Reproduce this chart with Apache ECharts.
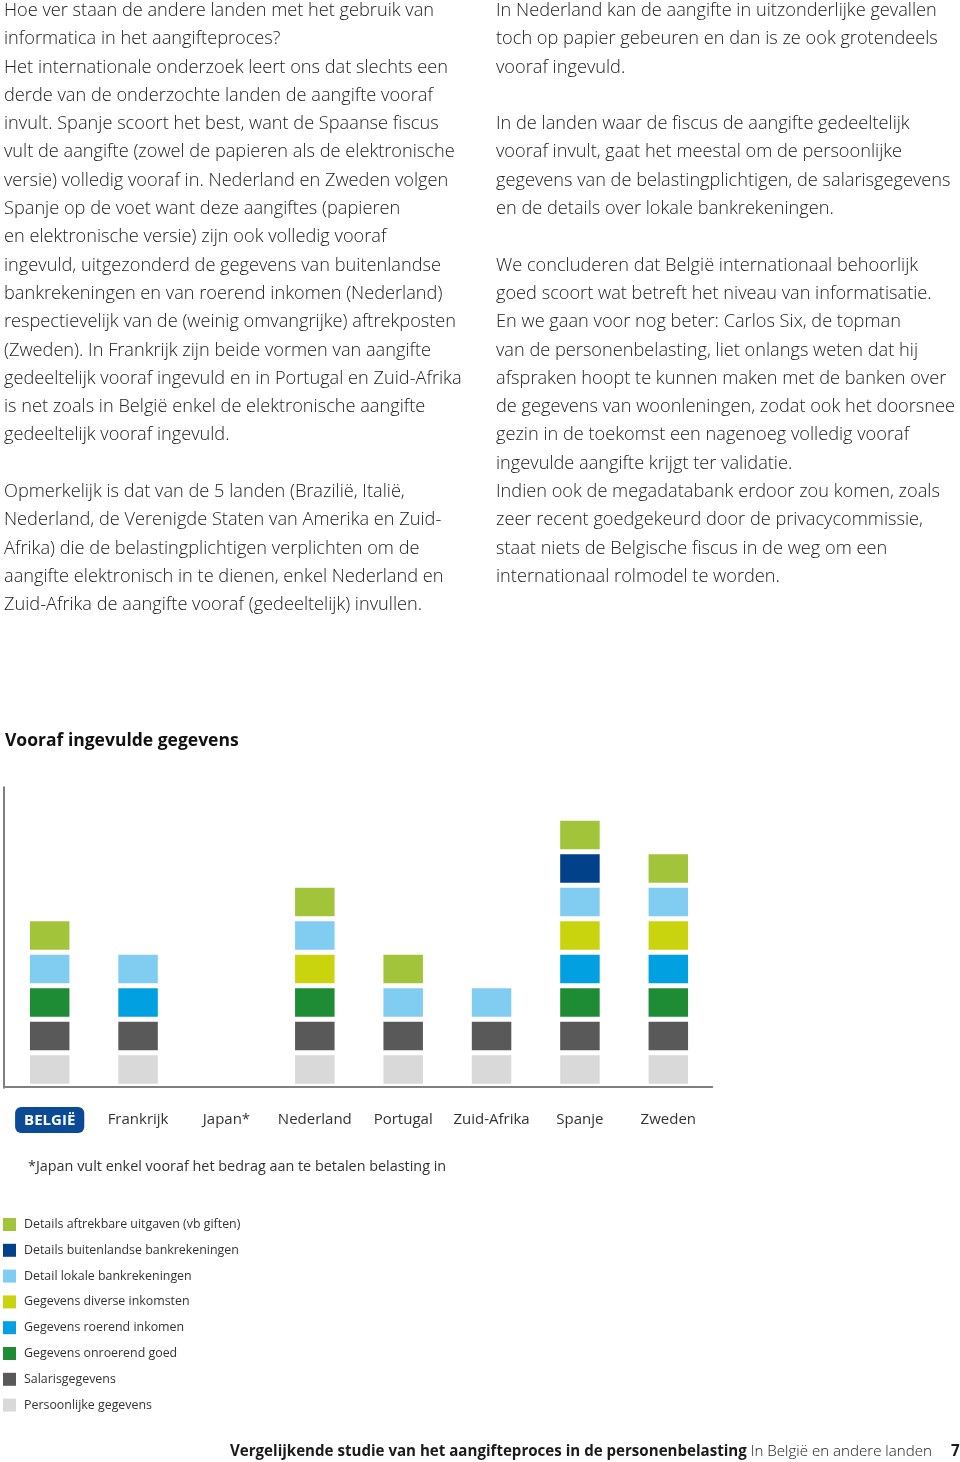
<!DOCTYPE html>
<html>
<head>
<meta charset="utf-8">
<script src="https://cdn.jsdelivr.net/npm/echarts@6/dist/echarts.min.js"></script>
<style>
  html, body { margin:0; padding:0; background:#fff; }
  body { width:960px; height:1462px; position:relative; overflow:hidden; }
  #chart { position:absolute; left:0; top:0; width:960px; height:1462px; }
  .col { position:absolute; top:-5px; font-family:"Open Sans", "Noto Sans", sans-serif; font-weight:300;
         font-size:18.2px; line-height:28.3px; color:#222; white-space:nowrap; letter-spacing:0; z-index:2; }
  #left { left:4px; }
  #right { left:496px; }
  #footer { position:absolute; left:230px; top:1440px; font-family:"Open Sans", "Noto Sans", sans-serif;
            font-size:15.1px; color:#1a1a1a; white-space:nowrap; letter-spacing:0; z-index:2; }
  #footer b { font-weight:700; }
  #footer span { font-weight:300; }
  #pagenr { position:absolute; left:951px; top:1440px; font-family:"Open Sans", sans-serif; font-weight:700; font-size:15.2px; color:#1a1a1a; }
</style>
</head>
<body>
<div id="chart"></div>
<div class="col" id="left">Hoe ver staan de andere landen met het gebruik van<br>informatica in het aangifteproces?<br>Het internationale onderzoek leert ons dat slechts een<br>derde van de onderzochte landen de aangifte vooraf<br>invult. Spanje scoort het best, want de Spaanse fiscus<br>vult de aangifte (zowel de papieren als de elektronische<br>versie) volledig vooraf in. Nederland en Zweden volgen<br>Spanje op de voet want deze aangiftes (papieren<br>en elektronische versie) zijn ook volledig vooraf<br>ingevuld, uitgezonderd de gegevens van buitenlandse<br>bankrekeningen en van roerend inkomen (Nederland)<br>respectievelijk van de (weinig omvangrijke) aftrekposten<br>(Zweden). In Frankrijk zijn beide vormen van aangifte<br>gedeeltelijk vooraf ingevuld en in Portugal en Zuid-Afrika<br>is net zoals in België enkel de elektronische aangifte<br>gedeeltelijk vooraf ingevuld.<br><br>Opmerkelijk is dat van de 5 landen (Brazilië, Italië,<br>Nederland, de Verenigde Staten van Amerika en Zuid-<br>Afrika) die de belastingplichtigen verplichten om de<br>aangifte elektronisch in te dienen, enkel Nederland en<br>Zuid-Afrika de aangifte vooraf (gedeeltelijk) invullen.</div>
<div class="col" id="right">In Nederland kan de aangifte in uitzonderlijke gevallen<br>toch op papier gebeuren en dan is ze ook grotendeels<br>vooraf ingevuld.<br><br>In de landen waar de fiscus de aangifte gedeeltelijk<br>vooraf invult, gaat het meestal om de persoonlijke<br>gegevens van de belastingplichtigen, de salarisgegevens<br>en de details over lokale bankrekeningen.<br><br>We concluderen dat België internationaal behoorlijk<br>goed scoort wat betreft het niveau van informatisatie.<br>En we gaan voor nog beter: Carlos Six, de topman<br>van de personenbelasting, liet onlangs weten dat hij<br>afspraken hoopt te kunnen maken met de banken over<br>de gegevens van woonleningen, zodat ook het doorsnee<br>gezin in de toekomst een nagenoeg volledig vooraf<br>ingevulde aangifte krijgt ter validatie.<br>Indien ook de megadatabank erdoor zou komen, zoals<br>zeer recent goedgekeurd door de privacycommissie,<br>staat niets de Belgische fiscus in de weg om een<br>internationaal rolmodel te worden.</div>
<div id="footer"><b>Vergelijkende studie van het aangifteproces in de personenbelasting</b> <span>In België en andere landen</span></div>
<div id="pagenr">7</div>
<script>
// ---- data ----
const countries = ['BELGIË', 'Frankrijk', 'Japan*', 'Nederland', 'Portugal', 'Zuid-Afrika', 'Spanje', 'Zweden'];
// stacking order bottom -> top; 1 = pre-filled, 0 = not
const persoonlijke  = [1, 1, 0, 1, 1, 1, 1, 1];
const salaris       = [1, 1, 0, 1, 1, 1, 1, 1];
const onroerend     = [1, 0, 0, 1, 0, 0, 1, 1];
const roerend       = [0, 1, 0, 0, 0, 0, 1, 1];
const diverse       = [0, 0, 0, 1, 0, 0, 1, 1];
const lokaleBank    = [1, 1, 0, 1, 1, 1, 1, 1];
const buitenlBank   = [0, 0, 0, 0, 0, 0, 1, 0];
const aftrekbare    = [1, 0, 0, 1, 1, 0, 1, 1];
const seriesNames = [
  'Persoonlijke gegevens', 'Salarisgegevens', 'Gegevens onroerend goed', 'Gegevens roerend inkomen',
  'Gegevens diverse inkomsten', 'Detail lokale bankrekeningen', 'Details buitenlandse bankrekeningen',
  'Details aftrekbare uitgaven (vb giften)'
];
const seriesValues = [persoonlijke, salaris, onroerend, roerend, diverse, lokaleBank, buitenlBank, aftrekbare];
const seriesColors = ['#d9d9d9', '#595959', '#1e8b35', '#00a0e1', '#c9d40f', '#80cdf1', '#004189', '#a2c43a'];
const titleText = 'Vooraf ingevulde gegevens';
const footnote = '*Japan vult enkel vooraf het bedrag aan te betalen belasting in';

const FONT = '"Open Sans", "Noto Sans", sans-serif';
const chart = echarts.init(document.getElementById('chart'), null, { renderer: 'canvas' });

const series = seriesNames.map((name, i) => ({
  name: name,
  type: 'bar',
  stack: 'total',
  barWidth: 44.5,
  data: seriesValues[i].map(v => (v ? v : '-')),
  itemStyle: { color: seriesColors[i], borderColor: '#ffffff', borderWidth: 2.5 },
  emphasis: { disabled: true },
  animation: false
}));

chart.setOption({
  animation: false,
  textStyle: { fontFamily: FONT },
  title: {
    text: titleText, left: 5, top: 732, padding: 0,
    textStyle: { fontFamily: FONT, fontSize: 17.5, fontWeight: 'bold', color: '#111' }
  },
  grid: { left: 5.5, top: 787, width: 707, height: 301, containLabel: false },
  xAxis: {
    type: 'category',
    data: countries,
    z: 5,
    axisLine: { lineStyle: { color: '#555', width: 1.5 } },
    axisTick: { show: false },
    axisLabel: {
      interval: 0,
      margin: 32, verticalAlign: 'middle', fontSize: 15, color: '#333', fontFamily: FONT,
      formatter: (v, idx) => (idx === 0 ? '{b|' + v + '}' : v),
      rich: {
        b: { backgroundColor: '#0b4b96', color: '#fff', fontWeight: 'bold', fontSize: 15,
             padding: [6, 9, 5, 9], borderRadius: 6, fontFamily: FONT }
      }
    }
  },
  yAxis: {
    type: 'value', min: -0.05, max: 8.93, offset: 1.5, z: 5,
    axisLine: { show: true, onZero: false, lineStyle: { color: '#555', width: 1.5 } },
    axisTick: { show: false },
    axisLabel: { show: false },
    splitLine: { show: false }
  },
  legend: {
    orient: 'vertical', left: 3, top: 1218, padding: 0,
    icon: 'rect', itemWidth: 13, itemHeight: 13, itemGap: 12.8,
    itemStyle: { borderWidth: 0 },
    data: seriesNames.slice().reverse(),
    selectedMode: false,
    textStyle: { fontSize: 12.4, color: '#333', fontFamily: FONT, padding: [0, 0, 0, 3] }
  },
  graphic: [{
    type: 'text', left: 28, top: 1160,
    style: { text: footnote, fontSize: 14.4, fill: '#333', fontFamily: FONT }
  }],
  series: series
});
</script>
</body>
</html>
